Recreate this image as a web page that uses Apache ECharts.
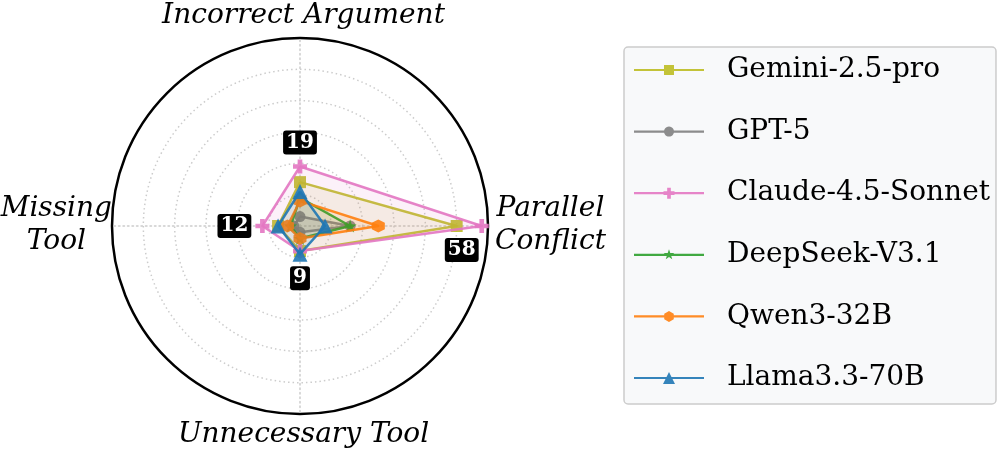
<!DOCTYPE html>
<html><head><meta charset="utf-8">
<script src="https://cdn.jsdelivr.net/npm/echarts@6/dist/echarts.min.js"></script>
<style>html,body{margin:0;padding:0;background:#fff}#c{width:997px;height:455px}</style>
</head><body><div id="c"></div>
<script>
// ---- data ----
const categories = ['Incorrect Argument', 'Missing\nTool', 'Unnecessary Tool', 'Parallel\nConflict'];
const axisMax = 60;
const models = ['Gemini-2.5-pro', 'GPT-5', 'Claude-4.5-Sonnet', 'DeepSeek-V3.1', 'Qwen3-32B', 'Llama3.3-70B'];
const gemini   = [14, 7, 8, 50];
const gpt5     = [3, 2, 2, 16];
const claude   = [19, 12, 8, 58];
const deepseek = [9, 3, 4, 16];
const qwen     = [8, 4, 4, 25];
const llama    = [11, 7, 9, 8];
const seriesValues = [gemini, gpt5, claude, deepseek, qwen, llama];

// ---- styles ----
const colors = ['#bcbd22', '#7f7f7f', '#e377c2', '#2ca02c', '#ff7f0e', '#1f77b4'];
const markers = ['square', 'circle', 'plus', 'star', 'hexagon', 'triangle'];
const markerSizes = [12, 11, 14, 13, 13, 15];
const legendMarkerSizes = [10, 10, 11, 11, 11, 12];
const annOffsets = [[0, -24], [-28, 0], [0, 24], [-20, 24]];

function shapePts(type) {
  switch (type) {
    case 'square': return [[-.5, -.5], [.5, -.5], [.5, .5], [-.5, .5]];
    case 'triangle': return [[0, -.5], [.5, .5], [-.5, .5]];
    case 'plus': { const a = 1 / 6; return [[-a, -.5], [a, -.5], [a, -a], [.5, -a], [.5, a], [a, a], [a, .5], [-a, .5], [-a, a], [-.5, a], [-.5, -a], [-a, -a]]; }
    case 'hexagon': return [0, 1, 2, 3, 4, 5].map(k => { const t = -Math.PI / 2 + k * Math.PI / 3; return [.5 * Math.cos(t), .5 * Math.sin(t)]; });
    case 'star': return [...Array(10).keys()].map(k => { const t = -Math.PI / 2 + k * Math.PI / 5; const r = k % 2 ? 0.5 * 0.4 : 0.5; return [r * Math.cos(t), r * Math.sin(t)]; });
    default: return [...Array(24).keys()].map(k => { const t = k * Math.PI / 12; return [.5 * Math.cos(t), .5 * Math.sin(t)]; });
  }
}
function polyPath(pts, cx, cy, s) {
  return 'M' + pts.map(p => (cx + p[0] * s).toFixed(2) + ',' + (cy + p[1] * s).toFixed(2)).join(' L') + ' Z';
}
function chartSymbol(type) {
  if (type === 'circle') return 'circle';
  return 'path://' + polyPath(shapePts(type), 10, 10, 20);
}
function legendIcon(type, size) {
  return 'path://M0,0 M88,14 M0,5.9 L70,5.9 L70,8.1 L0,8.1 Z ' + polyPath(shapePts(type), 35, 7, size);
}

const axisMaxima = categories.map((_, i) => Math.max(...seriesValues.map(v => v[i])));

const gridColor = '#cccccc';
const ringColors = [gridColor, gridColor, gridColor, gridColor, gridColor, gridColor, 'rgba(0,0,0,0)'];

const series = models.map((m, i) => ({
  type: 'radar',
  radarIndex: 0,
  z: 2 + i,
  symbol: chartSymbol(markers[i]),
  symbolSize: markerSizes[i],
  symbolKeepAspect: true,
  lineStyle: { color: colors[i], width: 2.5, opacity: 0.9 },
  itemStyle: { color: colors[i], opacity: 0.9, borderWidth: 0 },
  areaStyle: { color: colors[i], opacity: 0.1 },
  data: [{ value: seriesValues[i], name: m }]
}));

series.push({
  type: 'radar',
  radarIndex: 0,
  z: 20,
  silent: true,
  data: categories.map((c, k) => ({
    name: 'ann' + k,
    value: axisMaxima,
    symbol: 'circle',
    symbolSize: 1,
    itemStyle: { color: 'rgba(0,0,0,0)', borderWidth: 0 },
    lineStyle: { width: 0, opacity: 0 },
    label: {
      show: true,
      position: 'inside',
      offset: annOffsets[k],
      formatter: p => p.dimensionIndex === k ? '{b|' + p.value + '}' : '',
      rich: {
        b: {
          backgroundColor: '#000', color: '#fff', fontFamily: 'DejaVu Serif', fontWeight: 'bold',
          fontSize: 20, lineHeight: 20, padding: [2, 3, 2, 3], borderRadius: 3
        }
      }
    }
  }))
});

const nameFont = { fontFamily: 'DejaVu Serif', fontStyle: 'italic', fontSize: 28, lineHeight: 33, color: '#000' };

const option = {
  animation: false,
  backgroundColor: '#fff',
  legend: {
    orient: 'vertical',
    left: 624,
    top: 47,
    data: models.map((m, i) => ({ name: m, icon: legendIcon(markers[i], legendMarkerSizes[i]) })),
    itemWidth: 88,
    itemHeight: 14,
    itemGap: 31.6,
    itemStyle: { borderWidth: 0 },
    textStyle: { fontFamily: 'DejaVu Serif', fontSize: 28, lineHeight: 30, color: '#000' },
    padding: [8, 6, 11, 10],
    backgroundColor: '#f8f9fa',
    borderColor: '#cccccc',
    borderWidth: 1.5,
    borderRadius: 4,
    selectedMode: false
  },
  radar: [
    {
      center: [300, 226],
      radius: 188,
      startAngle: 90,
      shape: 'circle',
      splitNumber: 6,
      indicator: categories.map(n => ({ name: n, min: 0, max: axisMax })),
      axisNameGap: 0,
      axisName: Object.assign({}, nameFont, {
        padding: [4, 0, 6, 7],
        formatter: n => n.split('\n').map(s => '{c|' + s + '}').join('\n'),
        rich: { c: Object.assign({ align: 'center' }, nameFont) }
      }),
      axisLine: { lineStyle: { color: gridColor, width: 1.5, type: [1.5, 3] } },
      splitLine: { lineStyle: { color: ringColors, width: 1.5, type: [1.5, 3] } },
      splitArea: { show: false },
      axisTick: { show: false },
      axisLabel: { show: false }
    },
    {
      center: [300, 226],
      radius: 188,
      startAngle: 90,
      shape: 'circle',
      splitNumber: 1,
      indicator: categories.map(n => ({ name: n, min: 0, max: axisMax })),
      axisName: { show: false },
      axisLine: { show: false },
      splitLine: { lineStyle: { color: '#000', width: 2.5 } },
      splitArea: { show: false },
      axisTick: { show: false },
      axisLabel: { show: false }
    }
  ],
  series: series
};

const chart = echarts.init(document.getElementById('c'), null, { renderer: 'canvas' });
chart.setOption(option);
</script>
</body></html>
